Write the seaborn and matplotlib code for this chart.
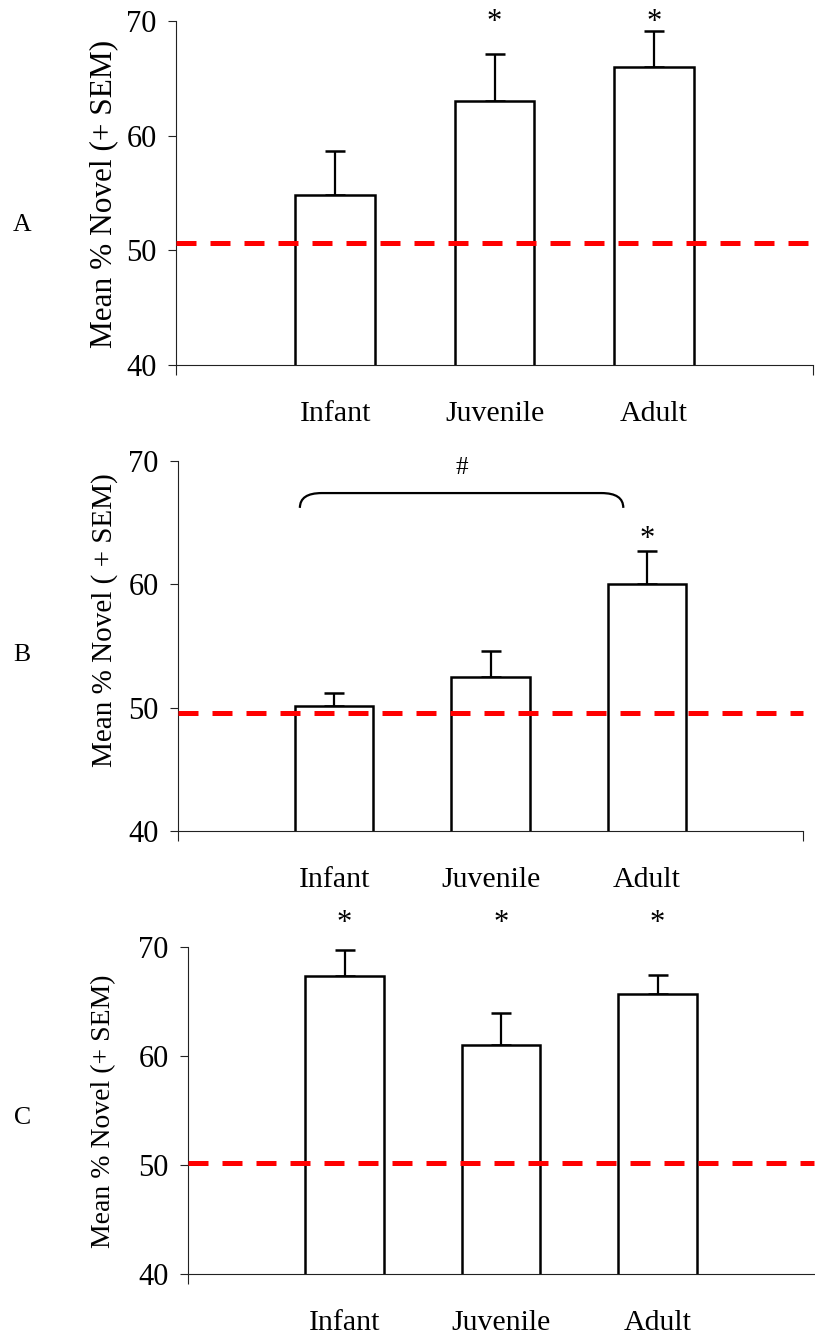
import matplotlib
matplotlib.use("Agg")
import matplotlib.pyplot as plt
from matplotlib.path import Path
from matplotlib.patches import PathPatch
import seaborn as sns
import pandas as pd

# ---- data -------------------------------------------------------------
age_groups = ["Infant", "Juvenile", "Adult"]
y_ticks = [40, 50, 60, 70]

mean_a = [54.8, 63.0, 66.0]
sem_a = [3.9, 4.1, 3.1]
chance_a = 50.6
stars_a = ["", "*", "*"]

mean_b = [50.1, 52.5, 60.0]
sem_b = [1.1, 2.1, 2.7]
chance_b = 49.6
stars_b = ["", "", "*"]
bracket_b = ["Infant", "Adult"]
bracket_b_label = "#"

mean_c = [67.3, 61.0, 65.7]
sem_c = [2.4, 2.9, 1.7]
chance_c = 50.2
stars_c = ["*", "*", "*"]

ylabel_a = "Mean % Novel (+ SEM)"
ylabel_b = "Mean % Novel ( + SEM)"
ylabel_c = "Mean % Novel (+ SEM)"

# ---- style ------------------------------------------------------------
sns.set_style("ticks")
plt.rcParams["font.family"] = ["Liberation Serif", "DejaVu Serif"]
plt.rcParams["lines.scale_dashes"] = True
for key in ("text.color", "axes.labelcolor", "xtick.color", "ytick.color"):
    plt.rcParams[key] = "black"

W, H = 815, 1341
fig = plt.figure(figsize=(W / 100, H / 100), dpi=100)
fig.patch.set_facecolor("white")


def box(left, top, right, bottom):
    """Pixel box -> figure-fraction rectangle."""
    return [left / W, 1 - bottom / H, (right - left) / W, (bottom - top) / H]


panels = [
    dict(letter="A", means=mean_a, sems=sem_a, chance=chance_a, stars=stars_a,
         star_y=69.9, ylabel=ylabel_a, rect=box(176, 21, 813, 365),
         letter_xy=(22.5, 225), ylabel_xy=(104, 194), ylabel_size=22.5,
         end_ticks=[-1, 3]),
    dict(letter="B", means=mean_b, sems=sem_b, chance=chance_b, stars=stars_b,
         star_y=63.6, ylabel=ylabel_b, rect=box(178, 461, 803, 831),
         letter_xy=(22, 655), ylabel_xy=(105, 620), ylabel_size=21,
         end_ticks=[-1, 3]),
    dict(letter="C", means=mean_c, sems=sem_c, chance=chance_c, stars=stars_c,
         star_y=72.2, ylabel=ylabel_c, rect=box(188, 947, 814, 1274),
         letter_xy=(22.5, 1118), ylabel_xy=(104, 1111), ylabel_size=20,
         end_ticks=[-1]),
]

for p in panels:
    ax = fig.add_axes(p["rect"])
    df = pd.DataFrame({"group": age_groups, "mean": p["means"]})
    sns.barplot(data=df, x="group", y="mean", order=age_groups, color="white",
                saturation=1, edgecolor="black", linewidth=1.8, width=0.5,
                errorbar=None, ax=ax, zorder=2)
    pos = list(range(len(age_groups)))
    ax.errorbar(pos, p["means"], yerr=[[0] * len(pos), p["sems"]], fmt="none",
                ecolor="black", elinewidth=1.6, capsize=7, capthick=1.8, zorder=1)
    ax.axhline(p["chance"], color="#ff0000", lw=3.6, ls=(0, (4, 2.8)),
               dash_capstyle="butt", zorder=3, clip_on=False)

    ax.set_xlim(-1, 3)
    ax.set_ylim(40, 70)
    ax.set_yticks(y_ticks)
    ax.set_xlabel("")
    ax.set_ylabel("")
    sns.despine(ax=ax)
    for side in ("left", "bottom"):
        ax.spines[side].set_linewidth(0.8)
        ax.spines[side].set_color("#222222")

    ax.tick_params(axis="y", direction="out", length=6, width=0.8, pad=8,
                   labelsize=22, color="#222222")
    ax.tick_params(axis="x", which="major", length=0, pad=26, labelsize=21.5)
    ax.set_xticks(p["end_ticks"], minor=True)
    ax.tick_params(axis="x", which="minor", direction="out", length=7.5,
                   width=0.8, color="#222222")

    for i, s in enumerate(p["stars"]):
        if s:
            ax.text(i, p["star_y"], s, ha="center", va="center", fontsize=22,
                    clip_on=False)

    fig.text(p["letter_xy"][0] / W, 1 - p["letter_xy"][1] / H, p["letter"],
             ha="center", va="center", fontsize=18.5)
    fig.text(p["ylabel_xy"][0] / W, 1 - p["ylabel_xy"][1] / H, p["ylabel"],
             rotation=90, ha="center", va="center", fontsize=p["ylabel_size"])

    if p["letter"] == "B":
        x0 = age_groups.index(bracket_b[0]) - 0.22
        x1 = age_groups.index(bracket_b[1]) - 0.15
        y_top, y_end, dx = 67.4, 66.2, 0.14
        verts = [(x0, y_end), (x0, y_top), (x0 + dx, y_top),
                 (x1 - dx, y_top), (x1, y_top), (x1, y_end)]
        codes = [Path.MOVETO, Path.CURVE3, Path.CURVE3,
                 Path.LINETO, Path.CURVE3, Path.CURVE3]
        ax.add_patch(PathPatch(Path(verts, codes), fill=False, lw=1.6,
                               edgecolor="black", clip_on=False, zorder=4))
        ax.text((x0 + x1) / 2, 69.4, bracket_b_label, ha="center", va="center",
                fontsize=18, clip_on=False)

fig.savefig("out.png", dpi=100, facecolor="white")
